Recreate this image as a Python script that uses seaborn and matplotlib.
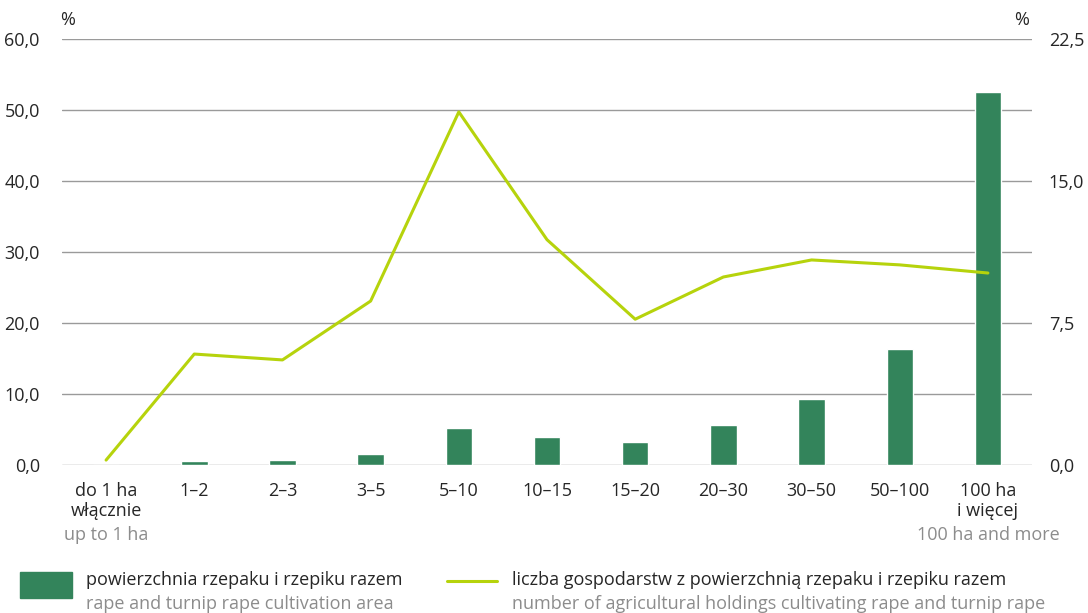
import matplotlib
matplotlib.use("Agg")
import matplotlib.pyplot as plt
import seaborn as sns
import pandas as pd
import numpy as np
from matplotlib.patches import Rectangle
from matplotlib.lines import Line2D

categories = ["do 1 ha\nwłącznie", "1–2", "2–3", "3–5", "5–10", "10–15", "15–20",
              "20–30", "30–50", "50–100", "100 ha\ni więcej"]
area_pct = [0.05, 0.5, 0.7, 1.6, 5.2, 4.0, 3.2, 5.6, 9.3, 16.4, 52.6]
holdings_pct = [0.26, 5.86, 5.55, 8.66, 18.65, 11.9, 7.7, 9.93, 10.83, 10.57, 10.14]
left_ticks = [0, 10, 20, 30, 40, 50, 60]
right_ticks = [0, 7.5, 15, 22.5]

sns.set_theme(style="white")
plt.rcParams['font.family'] = ['Open Sans', 'DejaVu Sans']

BAR = "#33845b"
LINE = "#b6d30c"
GRID = "#9a9a9a"
GREY = "#8c8c8c"

df = pd.DataFrame({"cat": categories, "area": area_pct, "hold": holdings_pct})

fig = plt.figure(figsize=(10.88, 6.13), dpi=100)
ax = fig.add_axes([62/1088, 1-465/613, (1032-62)/1088, (465-39)/613])

sns.barplot(data=df, x="cat", y="area", color=BAR, width=0.3, ax=ax, saturation=1, zorder=3)
ax.set_ylim(0, 60)
ax.set_xlim(-0.5, 10.5)
ax.set_yticks(left_ticks)
ax.set_yticklabels([f"{v:.1f}".replace(".", ",") for v in left_ticks], fontsize=13)
for y in left_ticks:
    ax.axhline(y, color=GRID, lw=1, zorder=1)
for s in ax.spines.values():
    s.set_visible(False)
ax.set_xlabel("")
ax.set_ylabel("")
ax.tick_params(axis="x", length=0, pad=12, labelsize=13)
ax.tick_params(axis="y", length=0, pad=16)

ax2 = ax.twinx()
sns.lineplot(x=np.arange(len(categories)), y=holdings_pct, color=LINE, lw=2.2, ax=ax2, zorder=4)
ax2.set_ylim(0, 22.5)
ax2.set_yticks(right_ticks)
ax2.set_yticklabels([f"{v:.1f}".replace(".", ",") for v in right_ticks], fontsize=13)
ax2.tick_params(axis="y", length=0, pad=12)
for s in ax2.spines.values():
    s.set_visible(False)
ax2.set_xlim(-0.5, 10.5)

fig.text(68/1088, 1-20/613, "%", fontsize=13, ha="center", va="center")
fig.text(1022/1088, 1-20/613, "%", fontsize=13, ha="center", va="center")

# English subtitles under first / last categories
fig.text(106/1088, 1-535/613, "up to 1 ha", fontsize=13, color=GREY, ha="center", va="center")
fig.text(988/1088, 1-535/613, "100 ha and more", fontsize=13, color=GREY, ha="center", va="center")

# legend
fig.patches.append(Rectangle((20/1088, 1-598/613), 52/1088, 26/613, transform=fig.transFigure,
                             color=BAR, figure=fig))
fig.text(86/1088, 1-580/613, "powierzchnia rzepaku i rzepiku razem", fontsize=13, va="center")
fig.text(86/1088, 1-604/613, "rape and turnip rape cultivation area", fontsize=13, color=GREY, va="center")
fig.lines.append(Line2D([447/1088, 497/1088], [1-581/613, 1-581/613], transform=fig.transFigure,
                        color=LINE, lw=2.2))
fig.text(512/1088, 1-580/613, "liczba gospodarstw z powierzchnią rzepaku i rzepiku razem", fontsize=13, va="center")
fig.text(512/1088, 1-604/613, "number of agricultural holdings cultivating rape and turnip rape", fontsize=13,
         color=GREY, va="center")

fig.savefig("out.png", dpi=100)
